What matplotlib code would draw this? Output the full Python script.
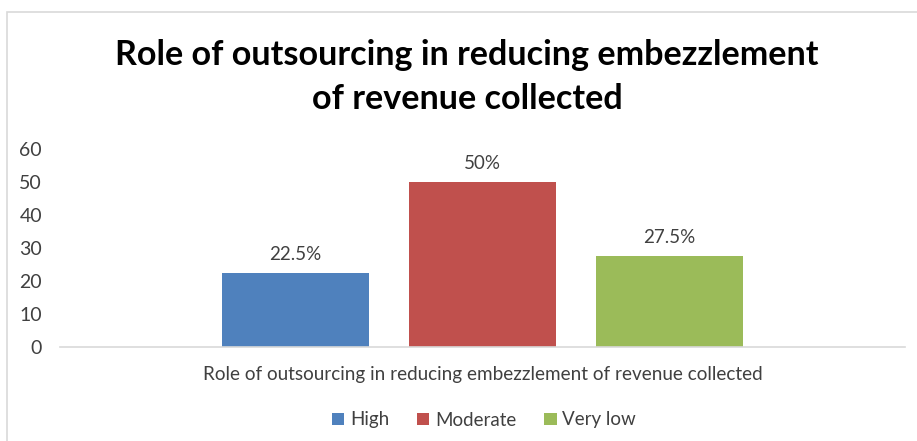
import matplotlib
matplotlib.use("Agg")
import matplotlib.pyplot as plt
from matplotlib.patches import Rectangle

plt.rcParams['font.family'] = ['Lato', 'DejaVu Sans']

title = "Role of outsourcing in reducing embezzlement\nof revenue collected"
category = "Role of outsourcing in reducing embezzlement of revenue collected"
series = ["High", "Moderate", "Very low"]
values = [22.5, 50, 27.5]
value_labels = ["22.5%", "50%", "27.5%"]
colors = ["#4F81BD", "#C0504D", "#9BBB59"]
yticks = [0, 10, 20, 30, 40, 50, 60]

W, H = 917, 441
fig = plt.figure(figsize=(W / 100, H / 100), dpi=100)
fig.patch.set_facecolor("white")

# chart area border (runs off the right and bottom edges)
fig.patches.append(Rectangle((7 / W, -0.1), 1.2, 1 - 12 / H + 0.1,
                             transform=fig.transFigure, fill=False,
                             edgecolor="#D9D9D9", linewidth=1.2))

ax = fig.add_axes([60 / W, 94 / H, (905 - 60) / W, (347 - 149) / H])

bar_w = 0.786
for i, (name, v, lab, c) in enumerate(zip(series, values, value_labels, colors)):
    x = i - 1
    ax.bar(x, v, width=bar_w, color=c, label=name, zorder=2)
    ax.text(x, v + 3.0, lab, ha="center", va="bottom", fontsize=13.5,
            color="#404040")

ax.set_xlim(-2.26, 2.26)
ax.set_ylim(0, 60)
ax.set_yticks(yticks)
ax.set_xticks([0])
ax.set_xticklabels([category])
ax.tick_params(axis="y", length=0, pad=13, labelsize=14, labelcolor="#404040")
ax.tick_params(axis="x", length=0, pad=14, labelsize=13.6, labelcolor="#404040")
for s in ["top", "right", "left"]:
    ax.spines[s].set_visible(False)
ax.spines["bottom"].set_color("#D9D9D9")
ax.spines["bottom"].set_linewidth(1.2)

fig.text(467 / W, 1 - 77 / H, title, ha="center", va="center",
         fontsize=24.6, fontweight="bold", color="black", linespacing=1.45)

fig.legend(loc="center", bbox_to_anchor=(484 / W, 1 - 420 / H), ncol=3,
           frameon=False, fontsize=13.5, handlelength=0.65, handleheight=0.65,
           handletextpad=0.3, columnspacing=1.5, labelcolor="#404040")

fig.savefig("out.png", dpi=100, facecolor="white")
